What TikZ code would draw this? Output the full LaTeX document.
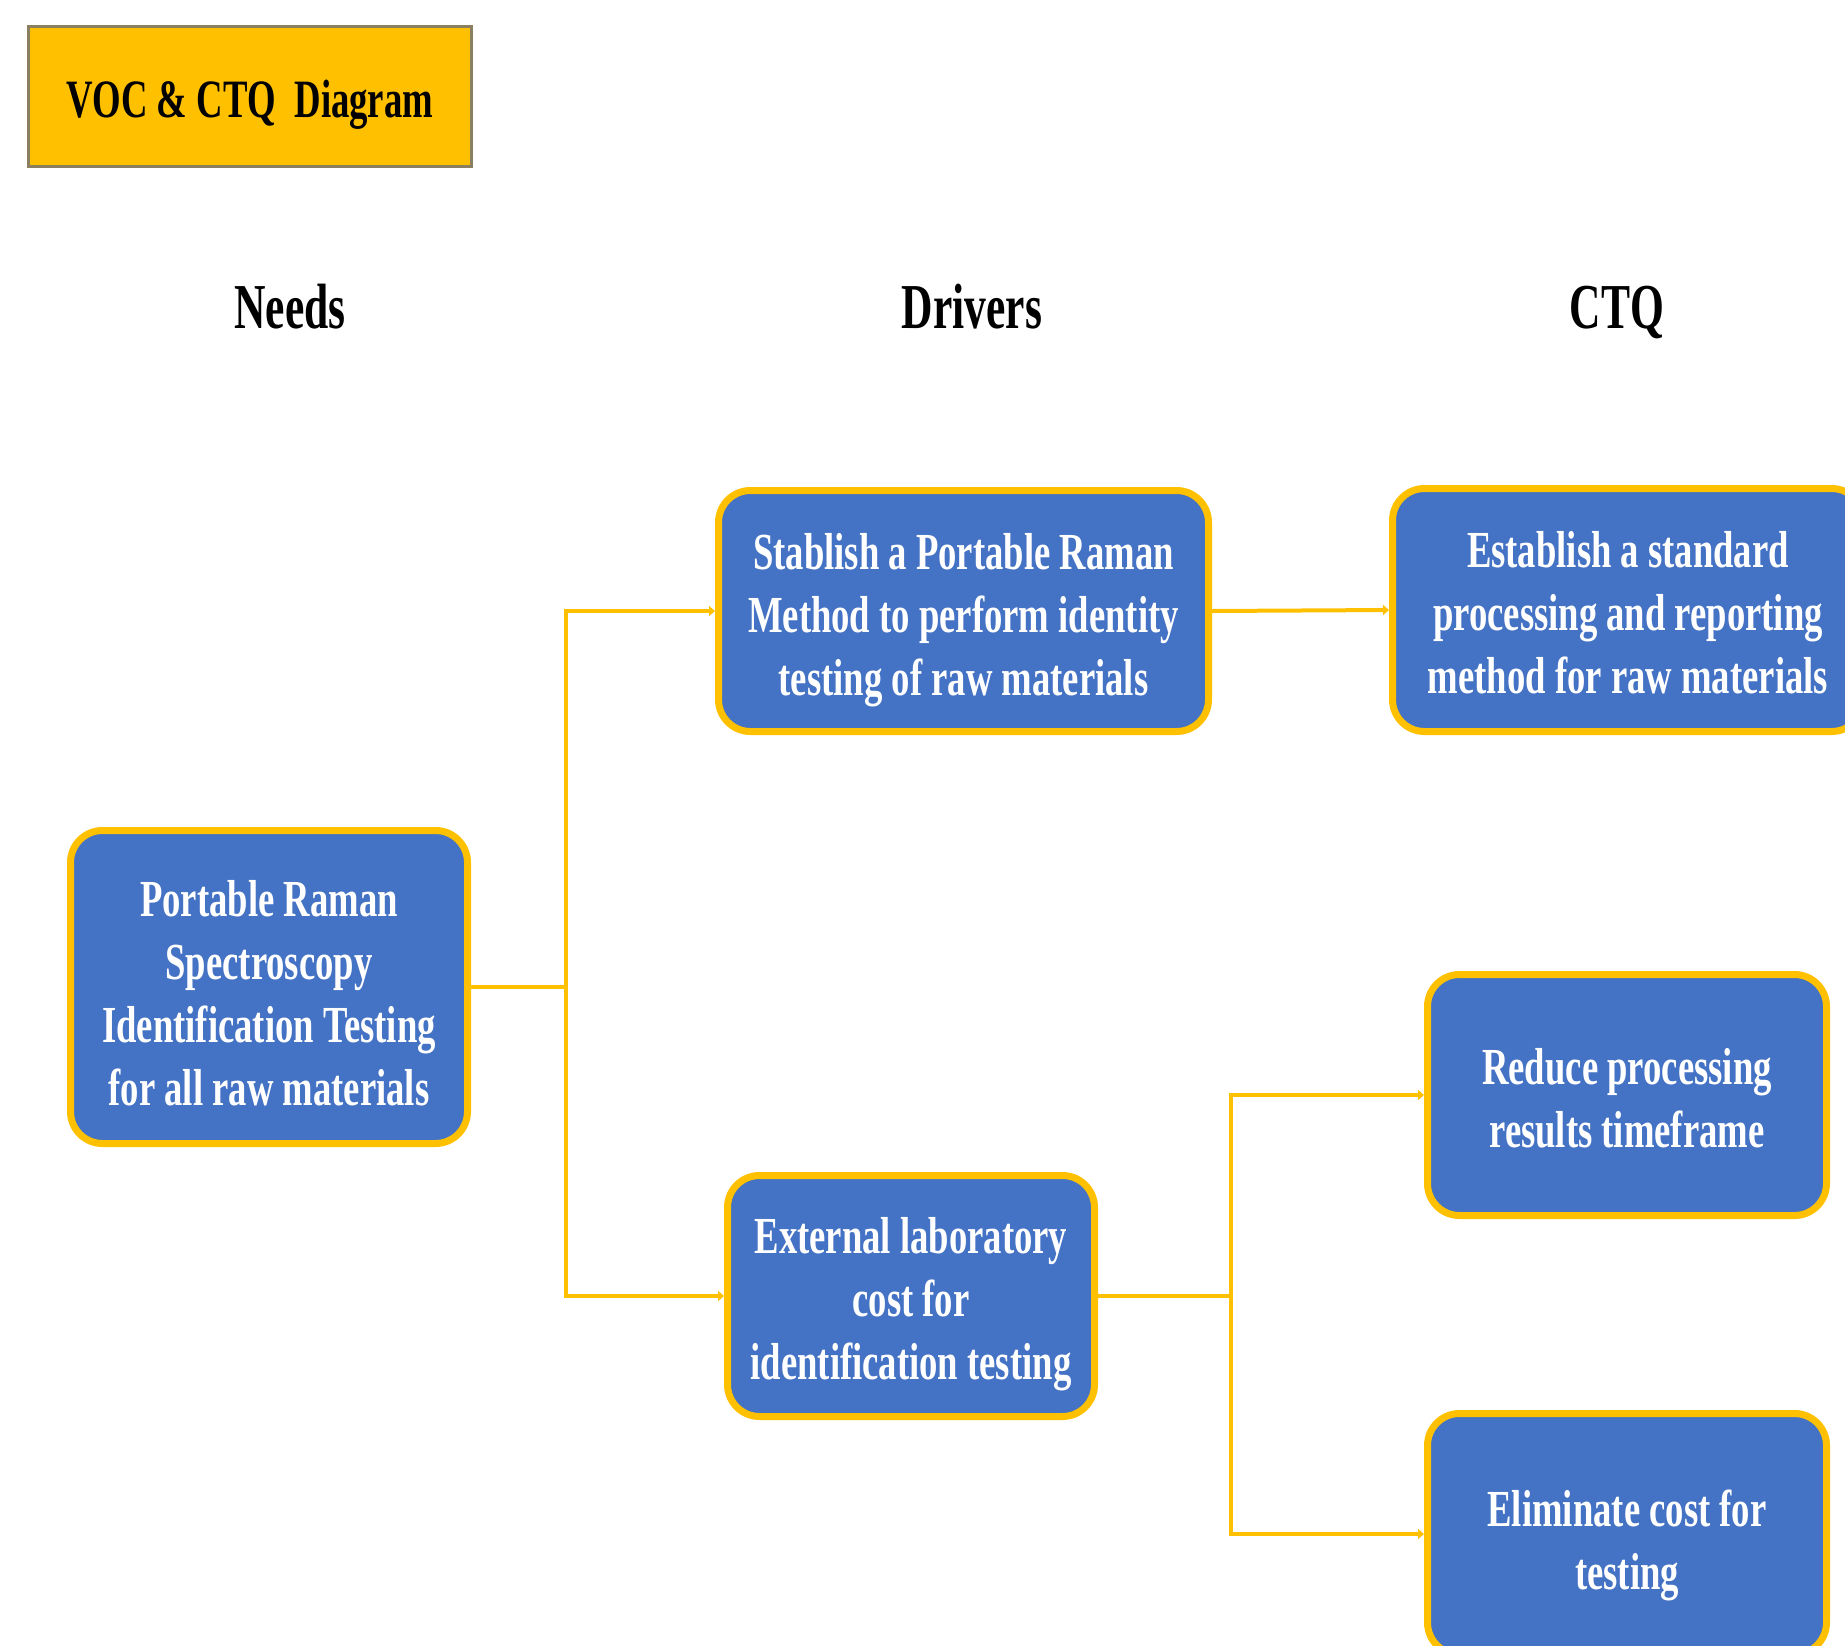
\documentclass[tikz,border=0pt]{standalone}
\usepackage{fontspec}
\setmainfont{Liberation Serif}[FakeStretch=0.68]
\newfontfamily\boxfont{Liberation Serif}[FakeStretch=0.705]
\usetikzlibrary{arrows.meta}
\definecolor{gold}{HTML}{FFC000}
\definecolor{boxblue}{HTML}{4472C4}
\definecolor{titleedge}{HTML}{8A8060}
\begin{document}
\begin{tikzpicture}[x=1pt,y=-1pt,
  box/.style={draw=gold, line width=7pt, fill=boxblue, rounded corners=32pt,
    text=white, align=center, inner sep=0pt,
    font=\boxfont\fontsize{52}{63}\selectfont\bfseries},
  header/.style={anchor=base, inner sep=0pt, font=\fontsize{64}{70}\selectfont\bfseries},
  titlebox/.style={draw=titleedge, line width=3pt, fill=gold, inner sep=0pt,
    minimum width=443pt, minimum height=140pt,
    font=\fontsize{54}{60}\selectfont\bfseries},
  conn/.style={draw=gold, line width=4pt, -{Triangle[length=6pt,width=10pt]}},
  link/.style={draw=gold, line width=4pt}]
\useasboundingbox (0,0) rectangle (1845,1646);
\clip (0,0) rectangle (1845,1646);

\node[titlebox] (title) at (250,96.5) {\raisebox{-8pt}[\height][\depth]{VOC \& CTQ\ \ Diagram}};

\node[header] (hneeds) at (290,328) {Needs};
\node[header] (hdrivers) at (972,328) {Drivers};
\node[header] (hctq) at (1617,328) {CTQ};

\node[box, minimum width=397pt, minimum height=313pt, text height=237.5pt] (needs) at (269,987)
  {Portable Raman\\Spectroscopy\\Identification Testing\\for all raw materials};
\node[box, minimum width=490pt, minimum height=241pt, text height=179.5pt] (d1) at (963.5,611)
  {Stablish a Portable Raman\\Method to perform identity\\testing of raw materials};
\node[box, minimum width=367pt, minimum height=241pt, text height=177.5pt] (d2) at (911,1296)
  {External laboratory\\cost for\\identification testing};
\node[box, minimum width=471pt, minimum height=243pt, text height=167.5pt] (c1) at (1628,610)
  {Establish a standard\\processing and reporting\\method for raw materials};
\node[box, minimum width=399pt, minimum height=241pt, text height=105.5pt] (c2) at (1627,1095)
  {Reduce processing\\results timeframe};
\node[box, minimum width=399pt, minimum height=241pt, text height=121.5pt] (c3) at (1627,1534)
  {Eliminate cost for\\testing};

\coordinate (j1) at (566,987);
\coordinate (j2) at (1231,1296);

\draw[link] (needs.east) -- (j1);
\draw[conn] (j1) |- (d1.west);
\draw[conn] (j1) |- (d2.west);
\draw[conn] (d1.east) -- (c1.west);
\draw[link] (d2.east) -- (j2);
\draw[conn] (j2) |- (c2.west);
\draw[conn] (j2) |- (c3.west);
\end{tikzpicture}
\end{document}
